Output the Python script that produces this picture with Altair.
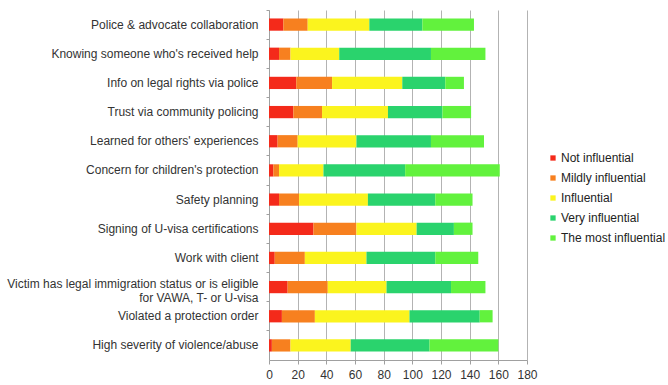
import altair as alt
import pandas as pd

# Factors (top to bottom); "|" marks a line break in the axis label
factors = [
    "Police & advocate collaboration",
    "Knowing someone who's received help",
    "Info on legal rights via police",
    "Trust via community policing",
    "Learned for others' experiences",
    "Concern for children's protection",
    "Safety planning",
    "Signing of U-visa certifications",
    "Work with client",
    "Victim has legal immigration status or is eligible|for VAWA, T- or U-visa",
    "Violated a protection order",
    "High severity of violence/abuse",
]

levels = [
    "Not influential",
    "Mildly influential",
    "Influential",
    "Very influential",
    "The most influential",
]

not_influential = [10, 7, 19, 17, 6, 3, 7, 31, 4, 13, 9, 2]
mildly_influential = [17, 8, 25, 20, 14, 4, 14, 30, 21, 28, 23, 13]
influential = [43, 34, 49, 46, 41, 31, 48, 42, 43, 41, 66, 42]
very_influential = [37, 64, 30, 38, 52, 57, 47, 26, 48, 45, 49, 55]
most_influential = [36, 38, 13, 20, 37, 66, 26, 13, 30, 24, 9, 48]

level_colors = ["#f42a1a", "#f7801f", "#fbf41e", "#2ad36d", "#62f23d"]

series = [not_influential, mildly_influential, influential,
          very_influential, most_influential]
rows = []
for lvl_idx, (lvl, vals) in enumerate(zip(levels, series)):
    for f, v in zip(factors, vals):
        rows.append({"factor": f, "level": lvl, "order": lvl_idx, "count": v})
df = pd.DataFrame(rows)

FONT = "Liberation Sans"
FS = 12
PAD = "\u00a0" * 19

label_expr = (
    "length(split(datum.label, '|')) > 1 ? "
    "[split(datum.label, '|')[0], split(datum.label, '|')[1] + '" + PAD + "'] : datum.label"
)

x_scale = alt.Scale(domain=[0, 180], nice=False)
x_axis = alt.Axis(
    values=list(range(0, 181, 20)),
    title=None,
    grid=True,
    gridColor="#b3b3b3",
    domainColor="#a0a0a0",
    tickColor="#a0a0a0",
    tickSize=4,
    labelPadding=5,
    labelFlush=False,
    labelOverlap=False,
    labelFont=FONT,
    labelFontSize=FS,
    labelColor="#333333",
)

bars = alt.Chart(df).mark_bar().encode(
    x=alt.X("sum(count):Q", scale=x_scale, axis=x_axis, stack="zero"),
    y=alt.Y(
        "factor:N",
        sort=factors,
        scale=alt.Scale(paddingInner=0.58, paddingOuter=0.29),
        axis=alt.Axis(
            title=None,
            ticks=False,
            domain=True,
            domainColor="#a0a0a0",
            labelPadding=11,
            labelFont=FONT,
            labelFontSize=FS,
            labelColor="#333333",
            labelLimit=400,
            labelLineHeight=14,
            labelOffset={
                "condition": {"test": "indexof(datum.value, '|') >= 0", "value": -3},
                "value": 0,
            },
            labelExpr=label_expr,
        ),
    ),
    color=alt.Color(
        "level:N",
        sort=levels,
        scale=alt.Scale(domain=levels, range=level_colors),
        legend=alt.Legend(
            title=None,
            orient="none",
            legendX=278,
            legendY=142,
            symbolType="square",
            symbolSize=28,
            symbolStrokeWidth=0,
            labelFont=FONT,
            labelFontSize=FS,
            labelColor="#222222",
            labelOffset=2,
            rowPadding=8,
            padding=0,
        ),
    ),
    order=alt.Order("order:Q", sort="ascending"),
)

# Category separators: ticks at the band boundaries on the left axis
separators = alt.Chart(df).mark_bar(opacity=0).encode(
    x=alt.X("sum(count):Q", scale=x_scale, axis=x_axis, stack="zero"),
    y=alt.Y(
        "factor:N",
        sort=factors,
        scale=alt.Scale(paddingInner=0, paddingOuter=0),
        axis=alt.Axis(
            orient="left",
            title=None,
            labels=False,
            domain=False,
            ticks=True,
            tickSize=3,
            tickColor="#a0a0a0",
            bandPosition=0,
        ),
    ),
)

chart = (
    alt.layer(bars, separators)
    .resolve_scale(y="independent")
    .properties(
        width=258,
        height=350,
        autosize=alt.AutoSizeParams(type="none"),
        padding={"left": 269, "top": 10, "right": 141, "bottom": 25},
        background="white",
    )
    .configure_view(stroke=None)
)

chart.save("out.html", embed_options={"renderer": "svg", "actions": False})
